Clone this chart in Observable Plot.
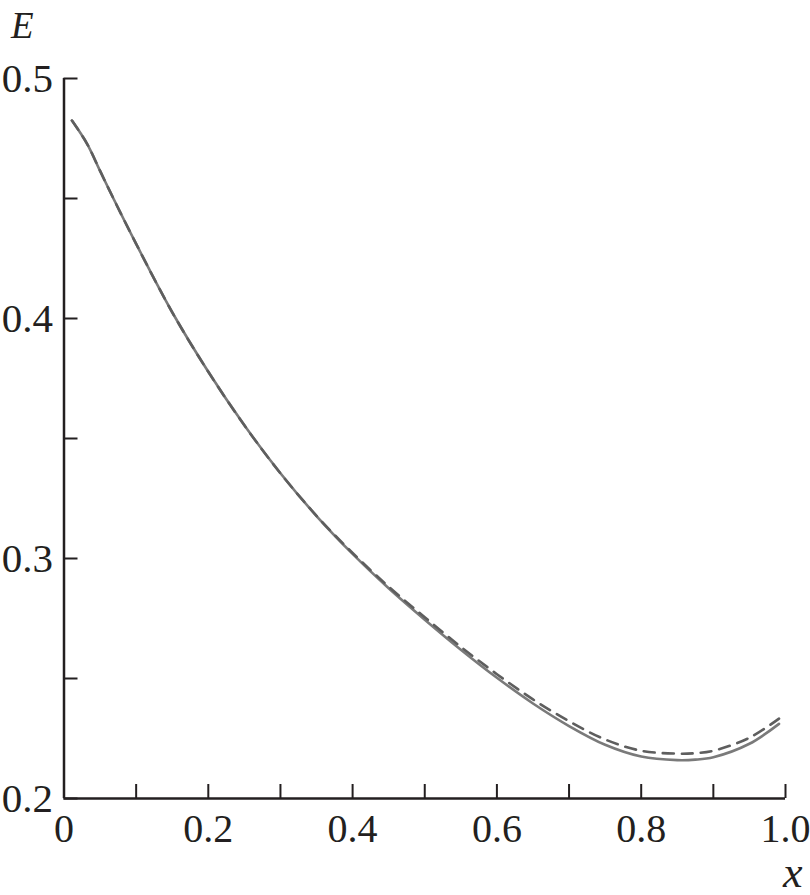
<!DOCTYPE html>
<html><head><meta charset="utf-8">
<script src="https://cdn.jsdelivr.net/npm/d3@7"></script>
<script src="https://cdn.jsdelivr.net/npm/@observablehq/plot@0.6"></script>
<style>
html,body{margin:0;padding:0;background:#fff;}
#chart{width:810px;height:895px;}
</style>
</head><body><div id="chart"></div>
<script>
// x positions of the read points
const xs = [0.011, 0.032, 0.05, 0.0685, 0.1, 0.15, 0.2, 0.25, 0.3, 0.35, 0.4, 0.45, 0.5, 0.55, 0.6, 0.65, 0.7, 0.75, 0.8, 0.85, 0.875, 0.9, 0.95, 0.991];
// solid curve E(x)
const eSolid = [0.4825, 0.4728, 0.4615, 0.4500, 0.4311, 0.4026, 0.3778, 0.3555, 0.3355, 0.3177, 0.3019, 0.2876, 0.2745, 0.2620, 0.2503, 0.2396, 0.2302, 0.2224, 0.2175, 0.2160, 0.2162, 0.2172, 0.2228, 0.2311];
// dashed curve E(x)
const eDashed = [0.4825, 0.4728, 0.4615, 0.4500, 0.4311, 0.4026, 0.3778, 0.3555, 0.3355, 0.3178, 0.3023, 0.2883, 0.2755, 0.2632, 0.2518, 0.2413, 0.2322, 0.2246, 0.2199, 0.2187, 0.2189, 0.2199, 0.2253, 0.2333];

const xTicks = [0, 0.1, 0.2, 0.3, 0.4, 0.5, 0.6, 0.7, 0.8, 0.9, 1.0];
const xTickLabels = [0, 0.2, 0.4, 0.6, 0.8, 1.0];
const xTickText = ["0", "0.2", "0.4", "0.6", "0.8", "1.0"];
const yTicks = [0.2, 0.25, 0.3, 0.35, 0.4, 0.45, 0.5];
const yTickLabels = [0.2, 0.3, 0.4, 0.5];
const yTickText = ["0.2", "0.3", "0.4", "0.5"];
const yTitle = "E";
const xTitle = "x";

const solid = xs.map((x, i) => ({x, E: eSolid[i]}));
const dashed = xs.map((x, i) => ({x, E: eDashed[i]}));

const ink = "#231f20";
const font = "'Liberation Serif', 'Times New Roman', Times, serif";

const chart = Plot.plot({
  width: 810,
  height: 895,
  marginLeft: 63.5,
  marginRight: 25,
  marginTop: 78,
  marginBottom: 97,
  style: {fontFamily: font, fontSize: "40px", color: ink, background: "#fff"},
  x: {domain: [0, 1]},
  y: {domain: [0.2, 0.5]},
  marks: [
    Plot.line(solid, {x: "x", y: "E", stroke: "#7a7a7a", strokeWidth: 2.6, curve: "catmull-rom"}),
    Plot.line(dashed, {x: "x", y: "E", stroke: "#5e5e5e", strokeWidth: 2.6, strokeDasharray: "11,8", curve: "catmull-rom"}),
    // inward ticks
    Plot.axisX({ticks: xTicks, tickSize: -14, tickFormat: () => "", stroke: ink, strokeWidth: 2, label: null}),
    Plot.axisY({ticks: yTicks, tickSize: -14, tickFormat: () => "", stroke: ink, strokeWidth: 2, label: null}),
    // labels
    Plot.axisX({ticks: xTickLabels, tickSize: 0, tickPadding: 15, tickFormat: (d, i) => xTickText[i], fill: ink, fontSize: 40, label: null}),
    Plot.axisY({ticks: yTickLabels, tickSize: 0, tickPadding: 11, tickFormat: (d, i) => yTickText[i], fill: ink, fontSize: 41, label: null}),
    // axis lines
    Plot.ruleX([0], {stroke: ink, strokeWidth: 2.5}),
    Plot.ruleY([0.2], {stroke: ink, strokeWidth: 2.5}),
    // axis titles
    Plot.text([yTitle], {frameAnchor: "top-left", text: d => d, dx: -53, dy: -67, fontStyle: "italic", fontSize: 37, fill: ink, textAnchor: "start", lineAnchor: "top"}),
    Plot.text([xTitle], {frameAnchor: "bottom-right", text: d => d, dx: 17, dy: 88, fontStyle: "italic", fontSize: 44, fill: ink, textAnchor: "end", lineAnchor: "bottom"})
  ]
});
document.getElementById("chart").appendChild(chart);
</script>
</body></html>
